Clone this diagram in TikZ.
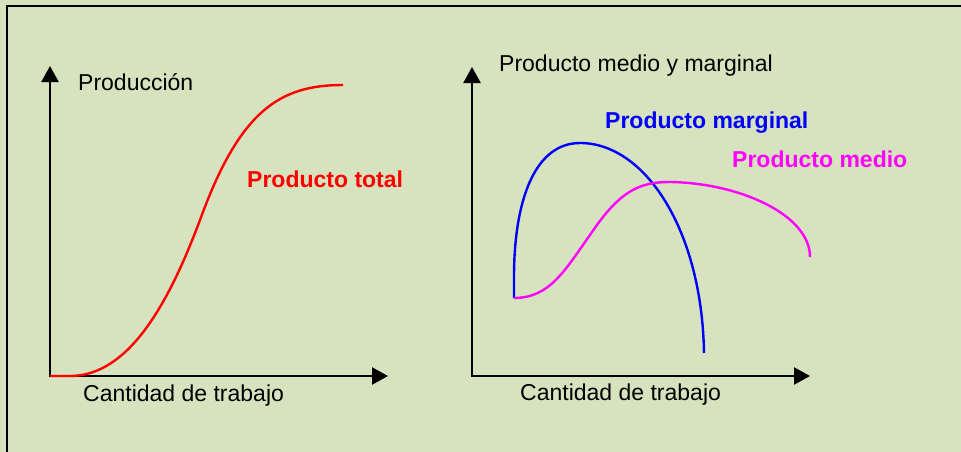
\documentclass[tikz,border=0pt]{standalone}
\usepackage{fontspec}
\setmainfont{Liberation Sans}
\usetikzlibrary{arrows.meta}
\definecolor{fondo}{HTML}{D7E2BE}
\definecolor{rojo}{RGB}{255,0,0}
\definecolor{azul}{RGB}{0,0,255}
\definecolor{rosa}{RGB}{255,0,255}
\tikzset{
  ejes/.style={line width=2.4pt, {Triangle[length=16pt,width=17pt]}-{Triangle[length=16pt,width=17pt]}},
  curva/.style={line width=2.4pt},
  texto/.style={anchor=base west, inner sep=0pt, font=\fontsize{23}{27}\selectfont},
  titulo/.style={texto, font=\fontsize{23}{27}\selectfont\bfseries}
}

\begin{document}
\begin{tikzpicture}[x=1pt, y=-1pt]
  % fondo y marco
  \useasboundingbox (0,0) rectangle (961,452);
  \clip (0,0) rectangle (961,452);
  \fill[fondo] (0,0) rectangle (961,452);
  \draw[line width=2.4pt] (7,470) |- (980,6);

  % producto total
  \coordinate (ytot) at (50,66);
  \coordinate (otot) at (50,376);
  \coordinate (xtot) at (388,376);
  \draw[ejes] (ytot) -- (otot) -- (xtot);
  \node[texto] (prod) at (78,91) {Producción};
  \node[texto] (trab1) at (83,401) {Cantidad de trabajo};
  \draw[rojo, curva] (otot) -- (70,376)
    .. controls (130,376) and (170,300) .. (200,220)
    .. controls (240,110) and (280,85) .. (343,85);
  \node[titulo, text=rojo] (total) at (247,187) {Producto total};

  % producto medio y marginal
  \coordinate (ymed) at (472,67);
  \coordinate (omed) at (472,376);
  \coordinate (xmed) at (810,376);
  \draw[ejes] (ymed) -- (omed) -- (xmed);
  \node[texto] (prodmm) at (499,72) {Producto medio y marginal};
  \node[texto] (trab2) at (520,400) {Cantidad de trabajo};
  \coordinate (cruce) at (514,298);
  \draw[azul, curva] (cruce) -- (514,277)
    .. controls (514,200) and (535,143) .. (580,143)
    .. controls (645,143) and (702,230) .. (704,353);
  \draw[rosa, curva] (cruce)
    .. controls (550,298) and (565,270) .. (590,235)
    .. controls (620,190) and (640,182) .. (670,182)
    .. controls (740,183) and (810,215) .. (810,257);
  \node[titulo, text=azul] (marg) at (605,128) {Producto marginal};
  \node[titulo, text=rosa] (medio) at (732,167) {Producto medio};
\end{tikzpicture}
\end{document}
